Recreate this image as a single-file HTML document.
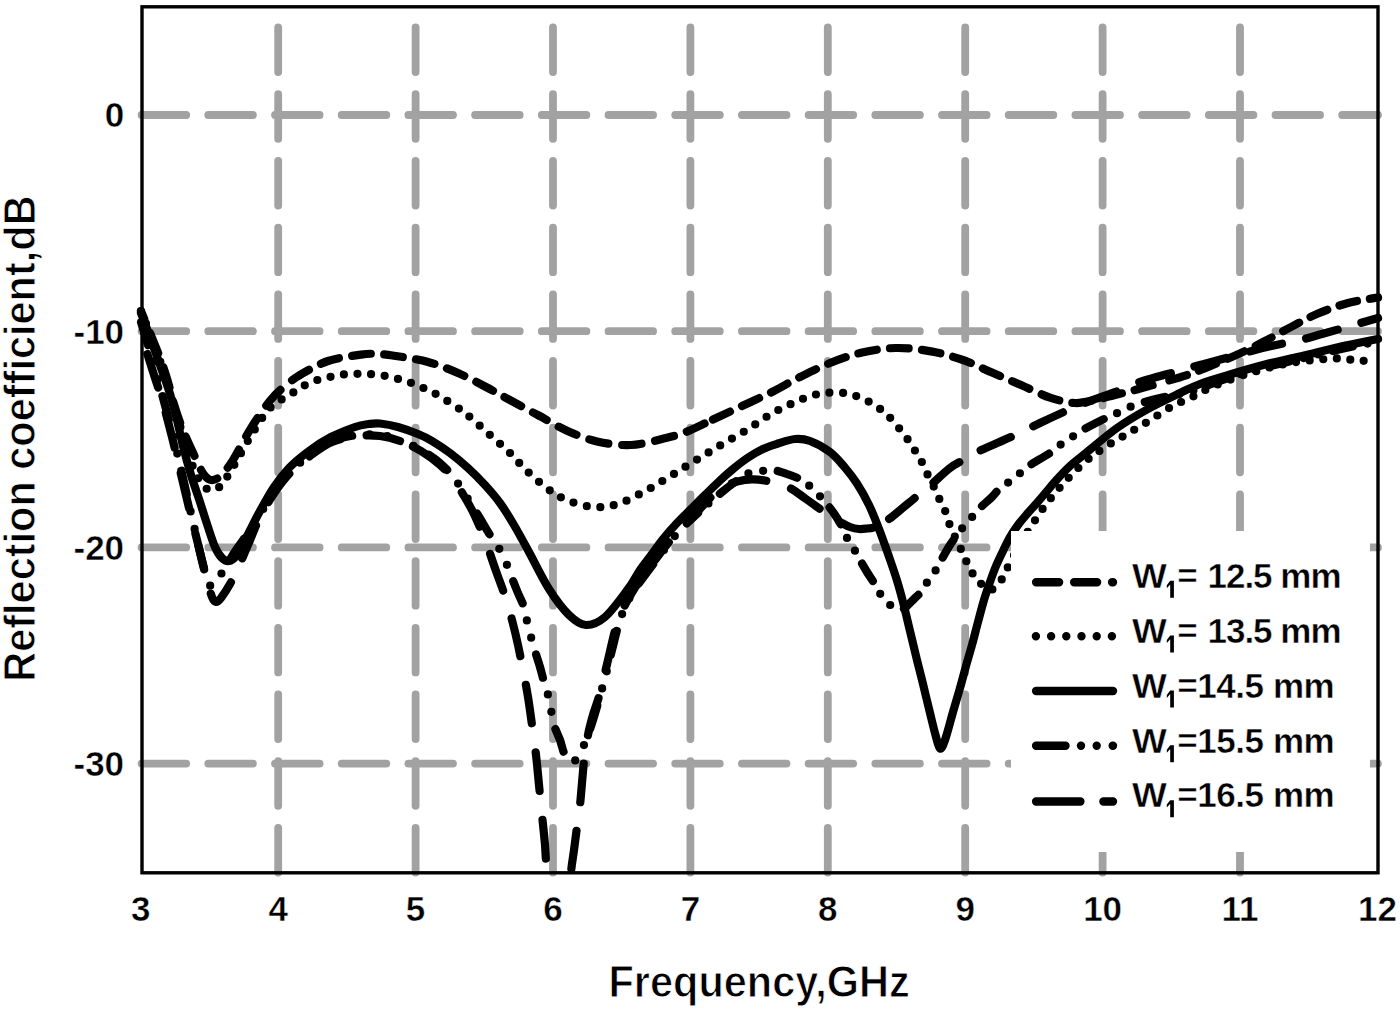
<!DOCTYPE html>
<html><head><meta charset="utf-8"><style>
html,body{margin:0;padding:0;background:#fff;}
svg{display:block;}
text{font-family:"Liberation Sans",sans-serif;font-weight:bold;fill:#000;stroke:#fff;stroke-width:0.45px;}
.tt{stroke-width:0.9px;}
</style></head><body>
<svg width="1400" height="1010" viewBox="0 0 1400 1010">
<rect x="0" y="0" width="1400" height="1010" fill="#fff"/>

<g stroke="#a2a2a2" stroke-width="7.8" stroke-linecap="round" stroke-dasharray="44.6 22.1" fill="none"><line x1="278.2" y1="872.5" x2="278.2" y2="6" /><line x1="415.6" y1="872.5" x2="415.6" y2="6" /><line x1="553.0" y1="872.5" x2="553.0" y2="6" /><line x1="690.4" y1="872.5" x2="690.4" y2="6" /><line x1="827.8" y1="872.5" x2="827.8" y2="6" /><line x1="965.2" y1="872.5" x2="965.2" y2="6" /><line x1="1102.6" y1="872.5" x2="1102.6" y2="6" /><line x1="1240.0" y1="872.5" x2="1240.0" y2="6" /><line x1="141.6" y1="115.0" x2="1378" y2="115.0" /><line x1="141.6" y1="331.2" x2="1378" y2="331.2" /><line x1="141.6" y1="547.4" x2="1378" y2="547.4" /><line x1="141.6" y1="763.6" x2="1378" y2="763.6" /></g>
<clipPath id="pc"><rect x="133" y="6" width="1254" height="866"/></clipPath>
<g clip-path="url(#pc)" fill="none" stroke="#000" stroke-width="8.2" stroke-linecap="round" stroke-linejoin="round">
<path d="M141.0,336.0 C142.2,339.3 145.7,349.0 148.0,356.0 C150.3,363.0 152.5,370.2 155.0,378.0 C157.5,385.8 160.2,393.2 163.0,403.0 C165.8,412.8 169.2,425.8 172.0,437.0 C174.8,448.2 177.0,457.5 180.0,470.0 C183.0,482.5 186.7,498.3 190.0,512.0 C193.3,525.7 197.2,540.7 200.0,552.0 C202.8,563.3 205.0,572.5 207.0,580.0 C209.0,587.5 210.5,593.3 212.0,597.0 C213.5,600.7 214.5,601.8 216.0,602.0 C217.5,602.2 218.7,601.0 221.0,598.0 C223.3,595.0 227.2,589.0 230.0,584.0 C232.8,579.0 235.0,574.5 238.0,568.0 C241.0,561.5 244.3,553.5 248.0,545.0 C251.7,536.5 255.5,525.8 260.0,517.0 C264.5,508.2 270.0,499.3 275.0,492.0 C280.0,484.7 284.2,479.0 290.0,473.0 C295.8,467.0 303.0,461.2 310.0,456.0 C317.0,450.8 324.0,445.3 332.0,442.0 C340.0,438.7 350.0,437.0 358.0,436.0 C366.0,435.0 373.0,435.2 380.0,436.0 C387.0,436.8 393.2,438.5 400.0,441.0" stroke-dasharray="35.34 26.66" stroke-dashoffset="42.96"/>
<path d="M400.0,441.0 C406.8,443.5 414.3,447.0 421.0,451.0 C427.7,455.0 434.5,460.2 440.0,465.0 C445.5,469.8 450.0,474.8 454.0,480.0 C458.0,485.2 460.8,490.7 464.0,496.0 C467.2,501.3 470.2,506.3 473.0,512.0 C475.8,517.7 478.5,524.0 481.0,530.0 C483.5,536.0 485.5,541.2 488.0,548.0 C490.5,554.8 493.2,563.0 496.0,571.0 C498.8,579.0 502.3,587.8 505.0,596.0 C507.7,604.2 509.8,611.8 512.0,620.0 C514.2,628.2 516.2,636.7 518.0,645.0 C519.8,653.3 521.3,661.3 523.0,670.0 C524.7,678.7 526.5,687.8 528.0,697.0 C529.5,706.2 530.7,715.3 532.0,725.0 C533.3,734.7 534.8,745.0 536.0,755.0 C537.2,765.0 538.0,775.0 539.0,785.0 C540.0,795.0 541.0,805.0 542.0,815.0 C543.0,825.0 544.2,835.0 545.0,845.0 C545.8,855.0 545.8,862.5 547.0,875.0 C548.2,887.5 550.0,905.8 552.0,920.0 C554.0,934.2 556.7,960.0 559.0,960.0" stroke-dasharray="38.76 29.24" stroke-dashoffset="53.90"/>
<path d="M559.0,960.0 C561.3,960.0 564.0,934.7 566.0,920.0 C568.0,905.3 569.7,883.7 571.0,872.0 C572.3,860.3 573.0,857.5 574.0,850.0 C575.0,842.5 576.0,834.5 577.0,827.0 C578.0,819.5 578.8,816.0 580.0,805.0 C581.2,794.0 582.7,772.7 584.0,761.0 C585.3,749.3 586.5,742.7 588.0,735.0 C589.5,727.3 591.0,722.0 593.0,715.0 C595.0,708.0 597.5,702.2 600.0,693.0 C602.5,683.8 605.3,671.0 608.0,660.0 C610.7,649.0 613.2,636.2 616.0,627.0 C618.8,617.8 621.0,612.8 625.0,605.0 C629.0,597.2 635.0,587.5 640.0,580.0 C645.0,572.5 650.0,566.5 655.0,560.0" stroke-dasharray="38.47 29.03" stroke-dashoffset="42.94"/>
<path d="M655.0,560.0 C660.0,553.5 664.2,547.7 670.0,541.0 C675.8,534.3 683.3,527.2 690.0,520.0 C696.7,512.8 704.7,503.3 710.0,498.0 C715.3,492.7 717.5,490.7 722.0,488.0 C726.5,485.3 731.8,483.0 737.0,481.6 C742.2,480.2 747.2,479.2 753.5,479.4 C759.8,479.5 768.9,481.1 775.0,482.5 C781.1,483.9 784.8,485.2 790.0,488.0 C795.2,490.8 801.0,495.5 806.0,499.0 C811.0,502.5 816.0,506.2 820.0,509.0 C824.0,511.8 826.7,513.8 830.0,516.0 C833.3,518.2 836.7,520.2 840.0,522.0 C843.3,523.8 846.8,525.8 850.0,527.0 C853.2,528.2 856.2,528.8 859.0,529.0 C861.8,529.2 864.3,528.8 867.0,528.5 C869.7,528.2 871.3,528.6 875.0,527.0" stroke-dasharray="34.77 26.23" stroke-dashoffset="12.31"/>
<path d="M875.0,527.0 C878.7,525.4 884.0,522.5 889.0,519.0 C894.0,515.5 899.7,510.3 905.0,506.0 C910.3,501.7 916.3,496.8 921.0,493.0 C925.7,489.2 928.2,487.2 933.0,483.0 C937.8,478.8 944.7,472.0 950.0,468.0 C955.3,464.0 960.5,461.7 965.0,459.0 C969.5,456.3 972.0,454.5 977.0,452.0 C982.0,449.5 989.0,446.7 995.0,444.0 C1001.0,441.3 1005.5,439.5 1013.0,436.0 C1020.5,432.5 1031.2,427.2 1040.0,423.0 C1048.8,418.8 1057.7,414.7 1066.0,411.0 C1074.3,407.3 1081.8,404.2 1090.0,401.0 C1098.2,397.8 1106.7,395.2 1115.0,392.0 C1123.3,388.8 1130.3,385.2 1140.0,382.0 C1149.7,378.8 1163.0,375.3 1173.0,372.5 C1183.0,369.7 1190.5,367.6 1200.0,365.0 C1209.5,362.4 1218.8,360.0 1230.0,357.0 C1241.2,354.0 1255.3,349.8 1267.0,347.0 C1278.7,344.2 1290.8,342.2 1300.0,340.0 C1309.2,337.8 1313.7,336.3 1322.0,334.0 C1330.3,331.7 1340.7,328.7 1350.0,326.0 C1359.3,323.3 1373.3,319.3 1378.0,318.0" stroke-dasharray="32.77 24.73" stroke-dashoffset="41.18"/>
<path d="M141.0,322.0 C142.2,325.8 145.7,337.0 148.0,345.0 C150.3,353.0 152.5,361.2 155.0,370.0 C157.5,378.8 160.2,387.7 163.0,398.0 C165.8,408.3 169.2,420.8 172.0,432.0 C174.8,443.2 177.3,453.7 180.0,465.0 C182.7,476.3 185.3,488.3 188.0,500.0 C190.7,511.7 193.5,524.2 196.0,535.0 C198.5,545.8 201.0,557.2 203.0,565.0 C205.0,572.8 206.5,578.5 208.0,582.0 C209.5,585.5 210.3,586.5 212.0,586.0 C213.7,585.5 215.7,582.3 218.0,579.0 C220.3,575.7 223.0,570.8 226.0,566.0 C229.0,561.2 232.3,555.5 236.0,550.0 C239.7,544.5 244.0,539.0 248.0,533.0 C252.0,527.0 255.5,521.0 260.0,514.0 C264.5,507.0 270.0,498.0 275.0,491.0 C280.0,484.0 284.2,478.0 290.0,472.0 C295.8,466.0 303.0,460.2 310.0,455.0 C317.0,449.8 324.0,444.3 332.0,441.0 C340.0,437.7 350.0,436.0 358.0,435.0 C366.0,434.0 373.0,434.2 380.0,435.0 C387.0,435.8 393.2,437.5 400.0,440.0" stroke-dasharray="23.87 17.71 0 17.71 0 17.71" stroke-dashoffset="76.70"/>
<path d="M400.0,440.0 C406.8,442.5 414.3,446.2 421.0,450.0 C427.7,453.8 434.5,458.3 440.0,463.0 C445.5,467.7 449.7,472.5 454.0,478.0 C458.3,483.5 462.0,489.8 466.0,496.0 C470.0,502.2 474.0,508.5 478.0,515.0 C482.0,521.5 486.3,529.2 490.0,535.0 C493.7,540.8 497.2,545.0 500.0,550.0 C502.8,555.0 505.0,560.3 507.0,565.0 C509.0,569.7 510.2,573.3 512.0,578.0 C513.8,582.7 516.0,588.2 518.0,593.0 C520.0,597.8 522.5,602.3 524.0,607.0 C525.5,611.7 525.8,616.0 527.0,621.0 C528.2,626.0 529.7,632.0 531.0,637.0 C532.3,642.0 533.5,646.0 535.0,651.0 C536.5,656.0 538.5,661.8 540.0,667.0 C541.5,672.2 542.7,677.3 544.0,682.0 C545.3,686.7 546.8,690.3 548.0,695.0 C549.2,699.7 550.0,705.0 551.0,710.0 C552.0,715.0 552.5,720.0 554.0,725.0 C555.5,730.0 558.2,735.0 560.0,740.0 C561.8,745.0 562.8,751.3 565.0,755.0 C567.2,758.7 570.3,762.7 573.0,762.0 C575.7,761.3 578.5,755.5 581.0,751.0 C583.5,746.5 585.5,741.8 588.0,735.0 C590.5,728.2 593.2,719.5 596.0,710.0 C598.8,700.5 602.3,688.0 605.0,678.0 C607.7,668.0 609.5,659.7 612.0,650.0 C614.5,640.3 617.0,628.8 620.0,620.0 C623.0,611.2 625.8,604.5 630.0,597.0 C634.2,589.5 639.3,582.8 645.0,575.0 C650.7,567.2 658.2,557.5 664.0,550.0 C669.8,542.5 674.3,536.2 680.0,530.0 C685.7,523.8 693.2,517.5 698.0,513.0" stroke-dasharray="23.87 17.71 0 17.71 0 17.71" stroke-dashoffset="44.65"/>
<path d="M698.0,513.0 C702.8,508.5 705.0,506.5 709.0,503.0 C713.0,499.5 717.7,495.5 722.0,492.0 C726.3,488.5 730.5,485.2 735.0,482.0 C739.5,478.8 744.5,474.8 749.0,473.0 C753.5,471.2 758.0,471.5 762.0,471.0 C766.0,470.5 768.8,469.5 773.0,470.0 C777.2,470.5 782.2,472.3 787.0,474.0 C791.8,475.7 798.2,477.9 802.0,480.0 C805.8,482.1 807.2,483.8 810.0,486.4 C812.8,488.9 816.3,492.5 819.0,495.3 C821.7,498.1 823.7,500.2 826.0,503.0 C828.3,505.8 830.7,508.7 833.0,512.0 C835.3,515.3 837.7,518.7 840.0,523.0 C842.3,527.3 844.7,533.7 847.0,538.0 C849.3,542.3 851.8,545.3 854.0,549.0 C856.2,552.7 857.8,556.2 860.0,560.0 C862.2,563.8 864.5,567.9 867.0,572.0 C869.5,576.1 872.7,580.7 875.0,584.5 C877.3,588.3 878.7,591.8 881.0,595.0 C883.3,598.2 886.5,601.8 889.0,604.0 C891.5,606.2 893.7,607.6 896.0,608.5 C898.3,609.4 901.2,609.6 903.0,609.2 C904.8,608.8 905.2,607.7 907.0,606.0 C908.8,604.3 911.7,601.3 914.0,599.0 C916.3,596.7 918.7,594.9 921.0,592.0 C923.3,589.1 925.2,585.1 927.6,581.5 C930.0,577.9 933.2,574.2 935.5,570.6 C937.8,567.0 939.1,564.0 941.5,559.7 C943.9,555.4 947.2,549.3 950.0,545.0 C952.8,540.7 955.7,537.2 958.0,534.0 C960.3,530.8 961.5,529.0 964.0,526.0 C966.5,523.0 970.2,519.2 973.0,516.0 C975.8,512.8 977.8,510.2 981.0,507.0 C984.2,503.8 988.8,500.2 992.0,497.0 C995.2,493.8 997.2,490.5 1000.0,488.0 C1002.8,485.5 1006.0,484.2 1009.0,482.0 C1012.0,479.8 1015.0,477.5 1018.0,475.0 C1021.0,472.5 1021.7,470.7 1027.0,467.0 C1032.3,463.3 1044.5,456.7 1050.0,453.0 C1055.5,449.3 1056.7,447.3 1060.0,445.0 C1063.3,442.7 1066.8,441.2 1070.0,439.0 C1073.2,436.8 1073.3,435.3 1079.0,432.0 C1084.7,428.7 1098.3,421.8 1104.0,419.0 C1109.7,416.2 1109.7,416.5 1113.0,415.0 C1116.3,413.5 1120.3,411.7 1124.0,410.0 C1127.7,408.3 1129.0,407.0 1135.0,405.0 C1141.0,403.0 1152.5,399.8 1160.0,398.0 C1167.5,396.2 1173.3,395.7 1180.0,394.0 C1186.7,392.3 1191.7,390.8 1200.0,388.0 C1208.3,385.2 1219.2,380.9 1230.0,377.5 C1240.8,374.1 1253.3,370.6 1265.0,367.5 C1276.7,364.4 1287.5,362.0 1300.0,359.0 C1312.5,356.0 1327.0,352.2 1340.0,349.3 C1353.0,346.4 1371.7,342.8 1378.0,341.5" stroke-dasharray="20.15 14.95 0 14.95 0 14.95" stroke-dashoffset="35.84"/>
<path d="M141.0,313.0 C142.5,317.0 146.8,328.3 150.0,337.0 C153.2,345.7 156.7,355.5 160.0,365.0 C163.3,374.5 167.2,384.8 170.0,394.0 C172.8,403.2 174.8,411.3 177.0,420.0 C179.2,428.7 180.7,436.8 183.0,446.0 C185.3,455.2 188.3,466.2 191.0,475.0 C193.7,483.8 196.3,490.8 199.0,499.0 C201.7,507.2 204.3,516.0 207.0,524.0 C209.7,532.0 212.5,541.3 215.0,547.0 C217.5,552.7 219.7,555.7 222.0,558.0 C224.3,560.3 226.7,561.3 229.0,561.0 C231.3,560.7 233.2,559.8 236.0,556.0 C238.8,552.2 242.0,545.5 246.0,538.0 C250.0,530.5 255.3,519.5 260.0,511.0 C264.7,502.5 269.2,494.2 274.0,487.0 C278.8,479.8 283.2,474.0 289.0,468.0 C294.8,462.0 302.0,456.2 309.0,451.0 C316.0,445.8 323.3,441.0 331.0,437.0 C338.7,433.0 348.7,429.2 355.0,427.0 C361.3,424.8 364.8,424.6 369.0,424.0 C373.2,423.4 375.2,423.0 380.0,423.5 C384.8,424.0 391.7,425.2 398.0,427.0 C404.3,428.8 412.3,431.7 418.0,434.0 C423.7,436.3 426.7,437.8 432.0,441.0 C437.3,444.2 444.0,448.5 450.0,453.0 C456.0,457.5 462.2,462.7 468.0,468.0 C473.8,473.3 479.7,479.2 485.0,485.0 C490.3,490.8 495.2,496.3 500.0,503.0 C504.8,509.7 509.2,516.8 514.0,525.0 C518.8,533.2 523.2,541.3 529.0,552.0 C534.8,562.7 542.3,578.5 549.0,589.0 C555.7,599.5 562.8,609.0 569.0,615.0 C575.2,621.0 580.0,624.7 586.0,625.0 C592.0,625.3 598.0,623.0 605.0,617.0 C612.0,611.0 622.2,596.8 628.0,589.0 C633.8,581.2 636.0,575.8 640.0,570.0 C644.0,564.2 648.2,559.2 652.0,554.0 C655.8,548.8 658.8,544.2 663.0,539.0 C667.2,533.8 672.3,528.0 677.0,523.0 C681.7,518.0 686.3,513.7 691.0,509.0 C695.7,504.3 700.3,499.6 705.0,495.0 C709.7,490.4 714.3,485.7 719.0,481.4 C723.7,477.1 728.2,472.9 733.0,469.0 C737.8,465.1 743.0,461.0 748.0,457.7 C753.0,454.4 758.0,451.4 763.0,449.0 C768.0,446.6 772.7,445.2 778.0,443.5 C783.3,441.8 789.7,439.4 795.0,439.0 C800.3,438.6 804.2,438.8 810.0,441.0 C815.8,443.2 824.2,447.6 830.0,452.0 C835.8,456.4 840.5,462.4 845.0,467.6 C849.5,472.9 853.0,477.3 857.0,483.5 C861.0,489.7 865.3,497.4 869.0,505.0 C872.7,512.6 875.7,520.4 879.0,529.0 C882.3,537.6 886.0,548.1 889.0,556.7 C892.0,565.3 894.7,573.0 897.0,580.5 C899.3,588.0 900.9,593.9 903.0,602.0 C905.1,610.1 907.3,620.0 909.5,629.0 C911.7,638.0 913.8,646.8 916.0,656.0 C918.2,665.2 920.7,674.5 923.0,684.0 C925.3,693.5 927.9,704.5 930.0,713.0 C932.1,721.5 933.8,729.1 935.5,735.0 C937.2,740.9 938.4,747.7 940.0,748.5 C941.6,749.3 942.8,746.1 945.0,740.0 C947.2,733.9 950.5,720.7 953.0,712.0 C955.5,703.3 957.8,695.7 960.0,688.0 C962.2,680.3 964.0,673.2 966.0,666.0 C968.0,658.8 970.0,652.3 972.0,645.0 C974.0,637.7 976.0,629.5 978.0,622.0 C980.0,614.5 982.0,606.7 984.0,600.0 C986.0,593.3 988.0,587.7 990.0,582.0 C992.0,576.3 993.8,571.2 996.0,566.0 C998.2,560.8 1000.7,555.8 1003.0,551.0 C1005.3,546.2 1007.5,541.3 1010.0,537.0 C1012.5,532.7 1015.2,528.8 1018.0,525.0 C1020.8,521.2 1024.0,517.5 1027.0,514.0 C1030.0,510.5 1033.0,507.4 1036.0,504.0 C1039.0,500.6 1041.7,497.4 1045.0,493.5 C1048.3,489.6 1051.8,485.1 1056.0,480.5 C1060.2,475.9 1065.0,470.6 1070.0,466.0 C1075.0,461.4 1078.2,459.3 1086.0,453.0 C1093.8,446.7 1106.7,435.3 1117.0,428.0 C1127.3,420.7 1137.5,414.8 1148.0,409.0 C1158.5,403.2 1171.3,397.2 1180.0,393.0 C1188.7,388.8 1191.7,387.1 1200.0,384.0 C1208.3,380.9 1219.2,377.8 1230.0,374.5 C1240.8,371.2 1253.3,367.5 1265.0,364.5 C1276.7,361.5 1287.5,359.4 1300.0,356.5 C1312.5,353.6 1327.0,349.7 1340.0,346.8 C1353.0,343.9 1371.7,340.3 1378.0,339.0" />
<path d="M141.0,311.0 C142.5,314.8 146.8,325.7 150.0,334.0 C153.2,342.3 157.0,352.5 160.0,361.0 C163.0,369.5 165.5,376.8 168.0,385.0 C170.5,393.2 172.7,402.2 175.0,410.0 C177.3,417.8 179.8,425.0 182.0,432.0 C184.2,439.0 185.8,445.3 188.0,452.0 C190.2,458.7 192.7,466.7 195.0,472.0 C197.3,477.3 199.7,481.0 202.0,484.0 C204.3,487.0 206.7,489.2 209.0,490.0 C211.3,490.8 213.7,490.2 216.0,489.0 C218.3,487.8 219.7,487.5 223.0,483.0 C226.3,478.5 231.2,470.2 236.0,462.0 C240.8,453.8 246.3,443.0 252.0,434.0 C257.7,425.0 263.5,414.7 270.0,408.0 C276.5,401.3 286.0,397.3 291.0,394.0 C296.0,390.7 296.3,390.1 300.0,388.0 C303.7,385.9 308.7,383.1 313.0,381.4 C317.3,379.7 321.7,379.1 326.0,378.0 C330.3,376.9 334.6,375.7 339.0,375.0 C343.4,374.3 348.0,374.2 352.5,374.0 C357.0,373.8 361.4,373.8 366.0,374.0 C370.6,374.2 375.3,374.3 380.0,375.0 C384.7,375.7 389.5,376.9 394.0,378.0 C398.5,379.1 403.0,380.1 407.0,381.4 C411.0,382.7 414.2,384.1 418.0,385.7 C421.8,387.3 426.3,389.2 430.0,391.0 C433.7,392.8 436.3,394.2 440.0,396.4 C443.7,398.6 448.2,401.5 452.0,404.0 C455.8,406.5 459.8,409.1 463.0,411.4 C466.2,413.7 466.5,414.1 471.0,418.0 C475.5,421.9 483.7,429.3 490.0,435.0 C496.3,440.7 503.0,446.2 509.0,452.0 C515.0,457.8 519.8,464.1 526.0,470.0 C532.2,475.9 539.5,482.6 546.0,487.5 C552.5,492.4 557.5,496.1 565.0,499.3 C572.5,502.5 582.5,505.9 591.0,506.8 C599.5,507.7 607.5,506.9 616.0,504.6 C624.5,502.3 634.0,496.9 642.0,492.8 C650.0,488.7 656.8,484.3 664.0,480.0 C671.2,475.7 678.0,471.3 685.0,467.0 C692.0,462.7 699.0,458.3 706.0,454.0 C713.0,449.7 719.8,445.6 727.0,441.4 C734.2,437.2 741.8,433.1 749.0,428.6 C756.2,424.1 763.0,418.7 770.0,414.6 C777.0,410.5 783.2,407.4 791.0,404.0 C798.8,400.6 808.0,396.1 817.0,394.3 C826.0,392.5 836.3,391.9 845.0,393.2 C853.7,394.4 861.8,398.1 869.0,401.8 C876.2,405.6 881.9,409.9 888.0,415.7 C894.1,421.5 901.5,431.4 905.8,436.9 C910.1,442.4 911.3,445.0 913.8,448.8 C916.3,452.6 918.6,455.7 920.7,459.7 C922.8,463.7 924.6,468.4 926.6,472.6 C928.6,476.8 931.0,480.9 933.0,485.0 C935.0,489.1 936.6,493.3 938.5,497.3 C940.4,501.3 942.8,504.9 944.5,509.2 C946.2,513.5 947.2,518.4 949.0,523.0 C950.8,527.6 952.9,532.4 955.0,537.0 C957.1,541.6 959.6,546.3 961.6,550.6 C963.6,554.9 965.2,559.0 967.2,563.0 C969.2,567.0 971.1,571.3 973.4,574.8 C975.7,578.3 978.1,581.3 981.0,583.8 C983.9,586.3 987.5,590.8 991.0,590.0 C994.5,589.2 999.2,582.8 1002.0,579.0 C1004.8,575.2 1005.3,572.2 1008.0,567.0 C1010.7,561.8 1014.5,554.2 1018.0,548.0 C1021.5,541.8 1024.7,536.8 1029.0,530.0 C1033.3,523.2 1038.3,514.7 1044.0,507.0 C1049.7,499.3 1056.0,491.7 1063.0,484.0 C1070.0,476.3 1078.8,467.2 1086.0,461.0 C1093.2,454.8 1099.2,451.0 1106.0,446.5 C1112.8,442.0 1120.0,438.2 1127.0,434.0 C1134.0,429.8 1140.7,426.0 1148.0,421.5 C1155.3,417.0 1163.7,411.1 1171.0,407.0 C1178.3,402.9 1184.8,400.5 1192.0,397.0 C1199.2,393.5 1204.3,390.0 1214.0,386.0 C1223.7,382.0 1237.3,376.8 1250.0,373.0 C1262.7,369.2 1276.2,365.4 1290.0,363.0 C1303.8,360.6 1323.5,359.2 1333.0,358.6 C1342.5,358.0 1342.3,359.2 1347.0,359.5 C1351.7,359.8 1356.2,359.8 1361.0,360.4 C1365.8,361.0 1373.5,362.6 1376.0,363.0" stroke-dasharray="0 13.6"/>
<path d="M141.0,311.0 C142.5,314.7 146.8,325.2 150.0,333.0 C153.2,340.8 157.1,350.2 160.0,358.0 C162.9,365.8 165.0,372.0 167.4,380.0 C169.8,388.0 172.1,398.2 174.5,406.0 C176.9,413.8 179.5,421.2 181.7,427.0 C183.9,432.8 185.6,436.5 187.6,441.0 C189.6,445.5 191.5,449.5 193.6,454.0 C195.7,458.5 198.1,464.3 200.0,468.0 C201.9,471.7 203.2,474.0 205.0,476.0 C206.8,478.0 208.8,479.7 211.0,480.0 C213.2,480.3 215.7,479.5 218.0,478.0 C220.3,476.5 222.4,474.2 225.0,471.0 C227.6,467.8 229.3,466.1 233.6,459.0 C237.9,451.9 244.6,438.3 250.7,428.6 C256.8,418.9 264.3,407.8 270.0,400.7 C275.7,393.6 280.0,390.3 285.0,386.0 C290.0,381.7 292.8,379.2 300.0,375.0" stroke-dasharray="21.35 15.15" stroke-dashoffset="12.60"/>
<path d="M300.0,375.0 C307.2,370.8 317.8,364.4 328.0,361.0 C338.2,357.6 352.7,355.8 361.0,354.6 C369.3,353.4 372.5,353.8 378.0,354.0 C383.5,354.2 385.7,354.4 394.0,355.7 C402.3,357.0 417.3,359.1 428.0,362.0 C438.7,364.9 448.3,368.8 458.0,373.0 C467.7,377.2 477.2,382.4 486.0,387.0 C494.8,391.6 502.2,395.9 511.0,400.7 C519.8,405.5 529.7,410.7 539.0,415.7" stroke-dasharray="18.87 13.38" stroke-dashoffset="8.50"/>
<path d="M539.0,415.7 C548.3,420.7 557.3,426.4 567.0,430.7 C576.7,435.0 586.3,439.0 597.0,441.4 C607.7,443.8 619.5,445.6 631.0,445.0 C642.5,444.4 656.8,440.2 666.0,438.0 C675.2,435.8 678.3,435.0 686.0,432.0 C693.7,429.0 702.7,424.3 712.0,420.0" stroke-dasharray="19.45 13.80" stroke-dashoffset="10.66"/>
<path d="M712.0,420.0 C721.3,415.7 732.0,410.7 742.0,406.0 C752.0,401.3 762.3,396.8 772.0,392.0 C781.7,387.2 790.3,381.8 800.0,377.0 C809.7,372.2 819.7,367.1 830.0,363.0 C840.3,358.9 851.0,355.0 862.0,352.5 C873.0,350.0 884.5,348.2 896.0,348.0 C907.5,347.8 919.8,349.4 931.0,351.4 C942.2,353.4 952.8,356.5 963.0,360.0 C973.2,363.5 982.3,368.4 992.0,372.6 C1001.7,376.8 1011.3,380.8 1021.0,385.0 C1030.7,389.2 1041.0,394.6 1050.0,397.6 C1059.0,400.6 1067.5,402.6 1075.0,403.0 C1082.5,403.4 1088.3,401.3 1095.0,400.0 C1101.7,398.7 1108.3,396.7 1115.0,395.0 C1121.7,393.3 1127.5,392.0 1135.0,390.0 C1142.5,388.0 1150.8,385.7 1160.0,383.0" stroke-dasharray="18.72 13.28" stroke-dashoffset="30.90"/>
<path d="M1160.0,383.0 C1169.2,380.3 1180.0,377.5 1190.0,374.0 C1200.0,370.5 1210.8,365.8 1220.0,362.0 C1229.2,358.2 1237.7,354.4 1245.0,351.0 C1252.3,347.6 1256.3,345.5 1264.0,341.5 C1271.7,337.5 1282.0,331.7 1291.0,327.0 C1300.0,322.3 1308.5,317.5 1318.0,313.5 C1327.5,309.5 1338.0,305.7 1348.0,303.0 C1358.0,300.3 1373.0,298.4 1378.0,297.5" stroke-dasharray="18.13 12.87" stroke-dashoffset="21.07"/>
</g>
<rect x="1011" y="531" width="359" height="321" fill="#fff"/>
<rect x="142" y="6.8" width="1236" height="866" fill="none" stroke="#000" stroke-width="3.4"/>
<g fill="none" stroke="#000" stroke-width="8.4" stroke-linecap="round"><line x1="1036.1" y1="582.2" x2="1113" y2="582.2" stroke-dasharray="23 15"/><line x1="1035.9" y1="636.3" x2="1112" y2="636.3" stroke-dasharray="0 15.2"/><line x1="1036.1" y1="691" x2="1113" y2="691" /><line x1="1036.1" y1="745.8" x2="1113" y2="745.8" stroke-dasharray="29.4 15.5 0 15.7 0 16"/><line x1="1036.1" y1="801.5" x2="1113" y2="801.5" stroke-dasharray="44.3 23"/></g>
<text transform="translate(1131.9,588.0) scale(1.055,1.02)" font-size="35">W</text>
<path d="M1166.8,585.2 L1170.2,580.8 L1170.2,584.4 L1166.8,588.2 Z M1170.2,580.8 H1173.9 V597.8 H1170.2 Z" fill="#000"/>
<text x="1177.3" y="588.0" font-size="35">= <tspan letter-spacing="-1">12.5 mm</tspan></text>
<text transform="translate(1131.9,642.9) scale(1.055,1.02)" font-size="35">W</text>
<path d="M1166.8,640.1 L1170.2,635.6 L1170.2,639.2 L1166.8,643.1 Z M1170.2,635.6 H1173.9 V652.6 H1170.2 Z" fill="#000"/>
<text x="1177.3" y="642.9" font-size="35">= <tspan letter-spacing="-1">13.5 mm</tspan></text>
<text transform="translate(1131.9,697.7) scale(1.055,1.02)" font-size="35">W</text>
<path d="M1166.8,694.9 L1170.2,690.5 L1170.2,694.1 L1166.8,697.9 Z M1170.2,690.5 H1173.9 V707.5 H1170.2 Z" fill="#000"/>
<text x="1177.3" y="697.7" font-size="35" letter-spacing="-0.45">=14.5 mm</text>
<text transform="translate(1131.9,752.5) scale(1.055,1.02)" font-size="35">W</text>
<path d="M1166.8,749.8 L1170.2,745.3 L1170.2,748.9 L1166.8,752.8 Z M1170.2,745.3 H1173.9 V762.3 H1170.2 Z" fill="#000"/>
<text x="1177.3" y="752.5" font-size="35" letter-spacing="-0.45">=15.5 mm</text>
<text transform="translate(1131.9,807.4) scale(1.055,1.02)" font-size="35">W</text>
<path d="M1166.8,804.6 L1170.2,800.2 L1170.2,803.8 L1166.8,807.6 Z M1170.2,800.2 H1173.9 V817.2 H1170.2 Z" fill="#000"/>
<text x="1177.3" y="807.4" font-size="35" letter-spacing="-0.45">=16.5 mm</text>
<text x="140.8" y="921.2" font-size="35" text-anchor="middle">3</text>
<text x="278.2" y="921.2" font-size="35" text-anchor="middle">4</text>
<text x="415.6" y="921.2" font-size="35" text-anchor="middle">5</text>
<text x="553.0" y="921.2" font-size="35" text-anchor="middle">6</text>
<text x="690.4" y="921.2" font-size="35" text-anchor="middle">7</text>
<text x="827.8" y="921.2" font-size="35" text-anchor="middle">8</text>
<text x="965.2" y="921.2" font-size="35" text-anchor="middle">9</text>
<text x="1102.6" y="921.2" font-size="35" text-anchor="middle">10</text>
<text x="1240.0" y="921.2" font-size="35" text-anchor="middle">11</text>
<text x="1377.4" y="921.2" font-size="35" text-anchor="middle">12</text>
<text x="124.1" y="127.4" font-size="35" text-anchor="end">0</text>
<text x="124.1" y="343.6" font-size="35" text-anchor="end">-10</text>
<text x="124.1" y="559.8" font-size="35" text-anchor="end">-20</text>
<text x="124.1" y="776.0" font-size="35" text-anchor="end">-30</text>
<text class="tt" transform="translate(608.5,997.4) scale(1,1.065)" x="0" y="0" font-size="41.5">Frequency,GHz</text>
<text class="tt" transform="translate(34.6,681.8) rotate(-90) scale(1,1.065)" x="0" y="0" font-size="41.5">Reflection coefficient,dB</text>
</svg></body></html>
